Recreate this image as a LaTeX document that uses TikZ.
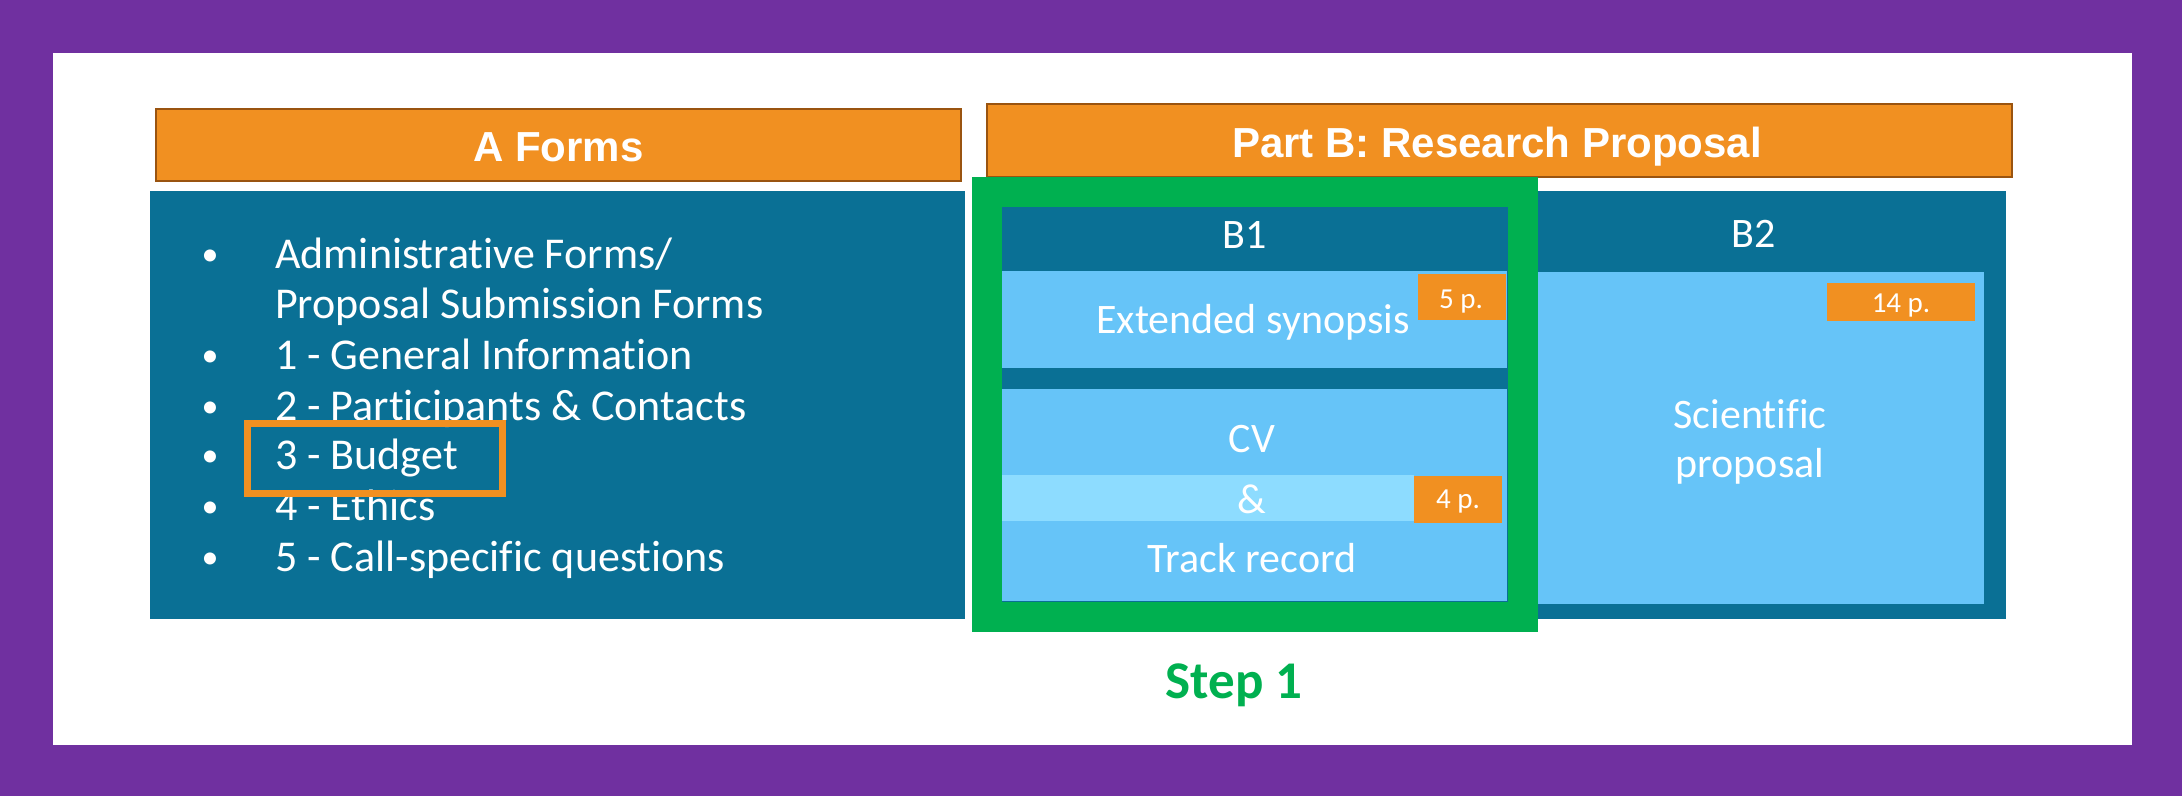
\documentclass[tikz,border=0pt]{standalone}
\usepackage{fontspec}
\setmainfont[Ligatures=NoCommon]{Carlito}
\newfontfamily\hfont{Liberation Sans}
\definecolor{purp}{HTML}{7030A0}
\definecolor{orng}{HTML}{F19021}
\definecolor{brwn}{HTML}{9A5410}
\definecolor{teal}{HTML}{0A7095}
\definecolor{lblue}{HTML}{66C4F8}
\definecolor{llblue}{HTML}{8DDCFF}
\definecolor{grn}{HTML}{00B050}
\tikzset{
  rbox/.style={rectangle, inner sep=0pt, outer sep=0pt, anchor=north west},
  hdr/.style={rbox, fill=orng, draw=brwn, line width=2.5pt},
  lst/.style={inner sep=0pt, text=white, font=\fontsize{44}{50}\selectfont},
  bul/.style={inner sep=0pt, text=white, font=\fontsize{34}{40}\selectfont},
  btxt/.style={inner sep=0pt, text=white, anchor=base, font=\fontsize{42}{48}\selectfont},
  pg/.style={rbox, fill=orng},
  pgtxt/.style={inner sep=0pt, text=white, anchor=base, font=\fontsize{29}{34}\selectfont},
  htxt/.style={inner sep=0pt, text=white, anchor=base, font=\hfont\bfseries\fontsize{42}{48}\selectfont},
}
\begin{document}
\begin{tikzpicture}[x=1pt,y=-1pt]
\useasboundingbox (0,0) rectangle (2182,796);
\fill[purp] (0,0) rectangle (2182,796);
\fill[white] (53,53) rectangle (2132,745);
% headers
\node[hdr, minimum width=805pt, minimum height=72pt] (ha) at (156,109) {};
\node[hdr, minimum width=1025pt, minimum height=73pt] (hb) at (987,104) {};
\node[htxt] (hat) at (558.5,161) {A Forms};
\node[htxt] (hbt) at (1497,157) {Part B: Research Proposal};
% teal boxes
\node[rbox, fill=teal, minimum width=815pt, minimum height=428pt] (ta) at (150,191) {};
\node[rbox, fill=teal, minimum width=1021pt, minimum height=428pt] (tb) at (985,191) {};
% B2 light
\node[rbox, fill=lblue, minimum width=469pt, minimum height=332pt] (b2l) at (1515,272) {};
% B1 pieces
\node[rbox, fill=lblue, minimum width=505pt, minimum height=97pt] (syn) at (1002,271) {};
\node[rbox, fill=lblue, minimum width=505pt, minimum height=212pt] (cv) at (1002,389) {};
\node[rbox, fill=llblue, minimum width=412pt, minimum height=46pt] (amp) at (1002,475) {};
\node[pg, minimum width=88pt, minimum height=47pt] (p4) at (1414,476) {};
\node[pg, minimum width=88pt, minimum height=46pt] (p5) at (1418,274) {};
\node[pg, minimum width=148pt, minimum height=38pt] (p14) at (1827,283) {};
% green frame
\draw[grn, line width=30pt] (987,191.5) rectangle (1522.5,616.5);
% B texts
\node[btxt] (b1t) at (1245,248) {B1};
\node[btxt] (b2t) at (1754,247) {B2};
\node[btxt] (synt) at (1253,333) {Extended synopsis};
\node[btxt] (cvt) at (1252,452) {CV};
\node[btxt] (ampt) at (1252,513) {\&};
\node[btxt] (trt) at (1252,572) {Track record};
\node[btxt] (sct) at (1750,428) {Scientific};
\node[btxt] (prt) at (1750,477) {proposal};
\node[pgtxt] (p5t) at (1461,308) {5 p.};
\node[pgtxt] (p4t) at (1458,508) {4 p.};
\node[pgtxt] (p14t) at (1901,312) {14 p.};
% list
\foreach \y/\t [count=\i] in {268/{Administrative Forms/},369/{1 - General Information},420/{2 - Participants \& Contacts},469/{3 - Budget},520/{4 - Ethics},571/{5 - Call-specific questions}}{
  \node[bul, anchor=base] (bul\i) at (210,\y-3) {•};
  \node[lst, anchor=base west] (it\i) at (275,\y) {\t};
}
\node[lst, anchor=base west] (it1b) at (275,318) {Proposal Submission Forms};
% budget highlight
\draw[orng, line width=7pt] (247.5,423.5) rectangle (502.5,493.5);
% step
\node[inner sep=0pt, anchor=base, text=grn, font=\bfseries\fontsize{53}{60}\selectfont] (step) at (1234,698) {Step 1};
\end{tikzpicture}
\end{document}
